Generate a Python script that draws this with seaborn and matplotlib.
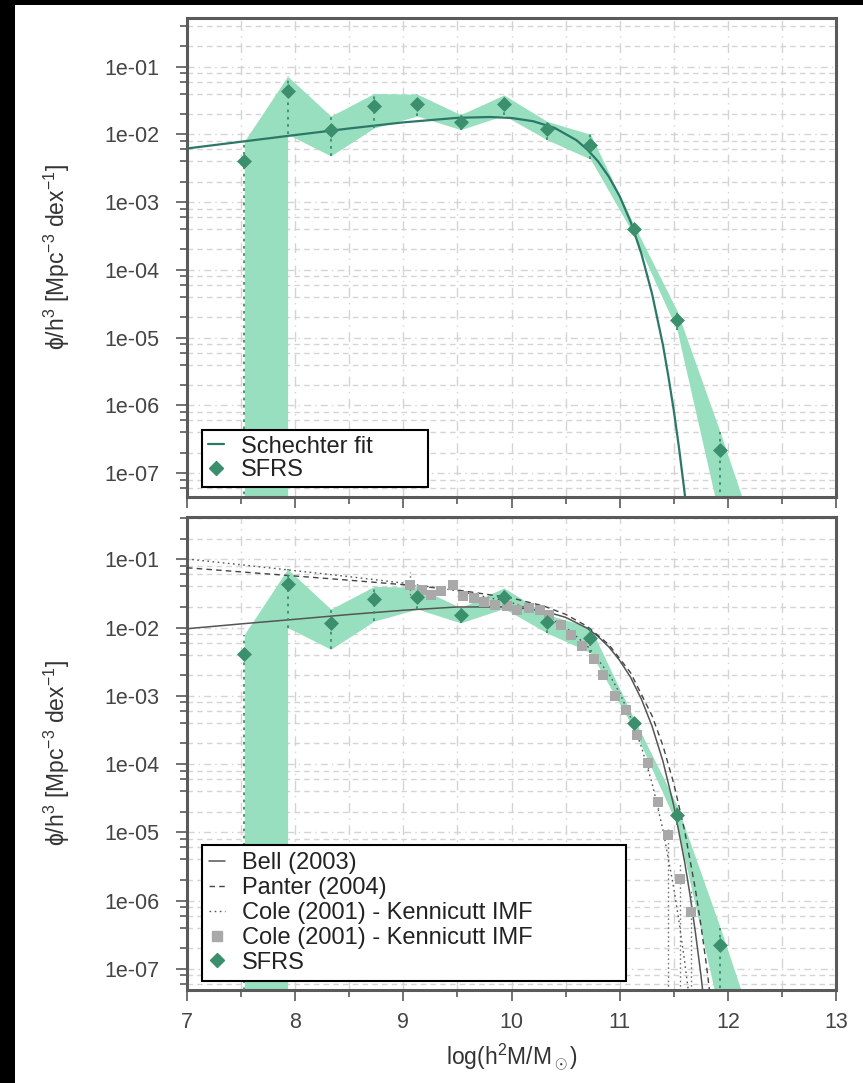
import numpy as np
import pandas as pd
import seaborn as sns
import matplotlib.pyplot as plt
from matplotlib.lines import Line2D
from matplotlib.patches import Rectangle
from matplotlib.ticker import FixedLocator, MultipleLocator, FuncFormatter, NullFormatter

# SFRS mass function points
sfrs_x = [7.53, 7.93, 8.33, 8.73, 9.13, 9.53, 9.93, 10.33, 10.73, 11.13, 11.53, 11.93, 12.33]
sfrs_y = [4.1e-3, 4.3e-2, 1.17e-2, 2.6e-2, 2.8e-2, 1.5e-2, 2.8e-2, 1.2e-2, 7.0e-3, 4.0e-4, 1.8e-5, 2.2e-7, 1.5e-9]
sfrs_hi = [7.9e-3, 7.2e-2, 1.86e-2, 4.0e-2, 3.9e-2, 1.95e-2, 3.8e-2, 1.55e-2, 1.0e-2, 4.7e-4, 2.5e-5, 4.0e-7, 5e-9]
sfrs_lo = [1e-12, 1.0e-2, 4.8e-3, 1.24e-2, 1.86e-2, 1.17e-2, 1.9e-2, 8.3e-3, 4.3e-3, 3.3e-4, 1.3e-5, 2e-8, 1e-10]

# Schechter fit (top panel)
fit_x = [7.0, 7.5, 8.0, 8.5, 9.0, 9.5, 9.8, 10.0, 10.2, 10.4, 10.6, 10.7, 10.8, 10.9, 11.0, 11.1, 11.2,
         11.3, 11.4, 11.45, 11.5, 11.55, 11.6, 11.65]
fit_y = [6.18e-3, 7.77e-3, 9.76e-3, 1.22e-2, 1.50e-2, 1.75e-2, 1.80e-2, 1.74e-2, 1.56e-2, 1.24e-2, 8.2e-3,
         5.97e-3, 3.99e-3, 2.37e-3, 1.22e-3, 5.19e-4, 1.75e-4, 4.4e-5, 7.8e-6, 2.7e-6, 8.5e-7, 2.28e-7,
         5.2e-8, 9.9e-9]

# Bell (2003)
bell_x = [7.0, 7.5, 8.0, 8.5, 9.0, 9.5, 10.0, 10.3, 10.5, 10.7, 10.8, 10.9, 11.0, 11.1, 11.2, 11.3, 11.4,
          11.5, 11.6, 11.65, 11.7, 11.75, 11.8]
bell_y = [9.6e-3, 1.13e-2, 1.32e-2, 1.55e-2, 1.79e-2, 2.0e-2, 2.0e-2, 1.74e-2, 1.41e-2, 9.76e-3, 7.4e-3,
          5.2e-3, 3.3e-3, 1.88e-3, 9.0e-4, 3.57e-4, 1.1e-4, 2.47e-5, 3.74e-6, 1.22e-6, 3.44e-7, 8.4e-8, 1.7e-8]

# Panter (2004)
panter_x = [7.0, 7.5, 8.0, 8.5, 9.0, 9.5, 10.0, 10.3, 10.5, 10.7, 10.9, 11.1, 11.3, 11.4, 11.5, 11.6,
            11.7, 11.75, 11.8, 11.85]
panter_y = [7.5e-2, 6.53e-2, 5.68e-2, 4.93e-2, 4.24e-2, 3.54e-2, 2.71e-2, 2.06e-2, 1.56e-2, 1.04e-2,
            5.61e-3, 2.19e-3, 5.07e-4, 1.86e-4, 5.2e-5, 1.07e-5, 1.46e-6, 4.5e-7, 1.2e-7, 2.7e-8]

# Cole (2001) - Kennicutt IMF, fit
cole_x = [7.0, 7.5, 8.0, 8.5, 9.0, 9.5, 10.0, 10.3, 10.5, 10.7, 10.9, 11.0, 11.1, 11.2, 11.3, 11.4,
          11.5, 11.55, 11.6, 11.65]
cole_y = [1.01e-1, 8.3e-2, 6.8e-2, 5.56e-2, 4.48e-2, 3.46e-2, 2.32e-2, 1.54e-2, 1.01e-2, 5.4e-3, 2.1e-3,
          1.1e-3, 4.9e-4, 1.8e-4, 5.2e-5, 1.09e-5, 1.53e-6, 4.8e-7, 1.3e-7, 3.1e-8]

# Cole (2001) - Kennicutt IMF, data
cole_px = [9.06, 9.17, 9.26, 9.35, 9.46, 9.55, 9.65, 9.75, 9.85, 9.96, 10.05, 10.16, 10.26, 10.35,
           10.46, 10.55, 10.65, 10.76, 10.85, 10.96, 11.06, 11.16, 11.26, 11.35, 11.45, 11.56, 11.66]
cole_py = [4.2e-2, 3.6e-2, 3.0e-2, 3.4e-2, 4.2e-2, 2.85e-2, 2.7e-2, 2.4e-2, 2.15e-2, 2.04e-2, 1.8e-2, 1.9e-2, 1.78e-2, 1.54e-2,
           1.1e-2, 7.8e-3, 5.4e-3, 3.5e-3, 2.0e-3, 1.0e-3, 6.1e-4, 2.7e-4, 1.03e-4, 2.8e-5, 9.2e-6, 2.1e-6, 6.7e-7]
cole_phi = [6.6e-2, 4.2e-2, 3.4e-2, 3.8e-2, 4.6e-2, 3.1e-2, 2.9e-2, 2.6e-2, 2.3e-2, 2.2e-2, 1.9e-2, 2.0e-2, 1.9e-2, 1.65e-2,
            1.2e-2, 8.4e-3, 5.9e-3, 3.8e-3, 2.2e-3, 1.1e-3, 6.8e-4, 3.1e-4, 1.2e-4, 3.4e-5, 1.2e-5, 3.5e-6, 1.4e-6]
cole_plo = [3.0e-2, 3.0e-2, 2.6e-2, 3.0e-2, 3.8e-2, 2.6e-2, 2.5e-2, 2.2e-2, 2.0e-2, 1.9e-2, 1.7e-2, 1.8e-2, 1.67e-2, 1.43e-2,
            1.0e-2, 7.2e-3, 4.9e-3, 3.2e-3, 1.8e-3, 9.0e-4, 5.4e-4, 2.3e-4, 8.5e-5, 2.2e-5, 1e-9, 1e-9, 1e-9]

# axis ticks
y_major = [1e-7, 1e-6, 1e-5, 1e-4, 1e-3, 1e-2, 1e-1]
y_minor_subs = [2, 4, 6, 8]
x_major = [7, 8, 9, 10, 11, 12, 13]

band_color = "#97dfbe"
pt_color = "#3b8f6c"
fit_color = "#2d7768"
axis_gray = "#5a5a5a"
grid_gray = "#d4d4d4"

sns.set_theme(style="white")
plt.rcParams["font.family"] = ["Liberation Sans", "DejaVu Sans"]
plt.rcParams["mathtext.fontset"] = "custom"
plt.rcParams["mathtext.rm"] = "Liberation Sans"
plt.rcParams["mathtext.it"] = "Liberation Sans"

fig = plt.figure(figsize=(8.63, 10.83), dpi=100, facecolor="black")
fig.patches.append(Rectangle((15 / 863, 0), 1, 1 - 5 / 1083, transform=fig.transFigure,
                             facecolor="white", edgecolor="none", zorder=-10))

ax1 = fig.add_axes([187 / 863, 1 - 496.7 / 1083, 649 / 863, 478.7 / 1083])
ax2 = fig.add_axes([187 / 863, 1 - 990 / 1083, 649 / 863, 473.3 / 1083])


def draw_sfrs(ax):
    # first bin: lower error reaches zero
    ax.fill_between(sfrs_x[:2], 1e-12, sfrs_hi[:2], color=band_color, lw=0, zorder=1)
    ax.fill_between(sfrs_x[1:], sfrs_lo[1:], sfrs_hi[1:], color=band_color, lw=0, zorder=1)
    ax.vlines(sfrs_x, sfrs_lo, sfrs_hi, colors=pt_color, linestyles=(0, (1.5, 2.5)), lw=1.3, zorder=4)


def draw_sfrs_points(ax):
    sns.scatterplot(x=sfrs_x, y=sfrs_y, ax=ax, marker="D", s=58, color=pt_color,
                    edgecolor=pt_color, linewidth=0, zorder=6, legend=False)


def style_axes(ax, ylim):
    ax.set_yscale("log")
    ax.set_xlim(7, 13)
    ax.set_ylim(*ylim)
    ax.set_facecolor("white")
    ax.xaxis.set_major_locator(FixedLocator(x_major))
    ax.xaxis.set_minor_locator(MultipleLocator(0.5))
    ax.yaxis.set_major_locator(FixedLocator(y_major))
    y_minor = [s * d for d in [1e-8] + y_major for s in y_minor_subs]
    ax.yaxis.set_minor_locator(FixedLocator(y_minor))
    ax.yaxis.set_major_formatter(FuncFormatter(lambda v, p: f"{v:.0e}"))
    ax.yaxis.set_minor_formatter(NullFormatter())
    ax.tick_params(which="both", direction="out", color=axis_gray, labelcolor="#444444", width=1.2)
    ax.tick_params(which="major", length=8, labelsize=15.5)
    ax.tick_params(which="minor", length=5)
    ax.tick_params(axis="y", which="major", pad=12)
    ax.tick_params(axis="both", which="both", left=True, bottom=True, top=False, right=False)
    ax.grid(True, which="major", axis="y", color=grid_gray, lw=1, ls=(0, (5, 3, 1, 3)))
    ax.grid(True, which="minor", axis="y", color=grid_gray, lw=1, ls=(0, (4, 3)))
    ax.grid(True, which="both", axis="x", color=grid_gray, lw=1, ls=(0, (7, 4, 1, 4)))
    ax.set_axisbelow(True)
    for sp in ax.spines.values():
        sp.set_color(axis_gray)
        sp.set_linewidth(2.2)
    ax.set_ylabel("ϕ/h$^\\mathregular{3}$ [Mpc$^\\mathregular{-3}$ dex$^\\mathregular{-1}$]",
                  fontsize=16.5, color="#333333")
    ax.yaxis.set_label_coords(-0.177, 0.5)


# top panel
draw_sfrs(ax1)
sns.lineplot(x=fit_x, y=fit_y, ax=ax1, color=fit_color, lw=1.6, sort=False, estimator=None, zorder=3)
draw_sfrs_points(ax1)
style_axes(ax1, (4.5e-8, 0.52))
ax1.tick_params(axis="x", labelbottom=False)

h_top = [Line2D([], [], color=fit_color, lw=1.6),
         Line2D([], [], color=pt_color, marker="D", ls="none", markersize=7)]
leg1 = ax1.legend(h_top, ["Schechter fit", "SFRS"], loc="lower left",
                  bbox_to_anchor=(14.7 / 649, 10 / 478.7, 226.6 / 649, 55 / 478.7), mode="expand",
                  borderaxespad=0, fontsize=17, frameon=True, fancybox=False, framealpha=1,
                  edgecolor="black", handlelength=0.7, handletextpad=0.7, labelspacing=0.05,
                  borderpad=0.25)
leg1.get_frame().set_linewidth(1.5)
for t in leg1.get_texts():
    t.set_color("#222222")

# bottom panel
draw_sfrs(ax2)
sns.lineplot(x=bell_x, y=bell_y, ax=ax2, color="#555555", lw=1.1, sort=False, estimator=None, zorder=3)
sns.lineplot(x=panter_x, y=panter_y, ax=ax2, color="#444444", lw=1.0, sort=False, estimator=None, zorder=3)
ax2.lines[-1].set_linestyle((0, (4, 3)))
sns.lineplot(x=cole_x, y=cole_y, ax=ax2, color="#555555", lw=1.0, sort=False, estimator=None, zorder=3)
ax2.lines[-1].set_linestyle((0, (1.2, 2.5)))
ax2.vlines(cole_px, cole_plo, cole_phi, colors="#777777", linestyles=(0, (1.2, 2.0)), lw=1.0, zorder=3)
sns.scatterplot(x=cole_px, y=cole_py, ax=ax2, marker="s", s=52, color="#a9a9a9",
                edgecolor="#a9a9a9", linewidth=0, zorder=4, legend=False)
draw_sfrs_points(ax2)
style_axes(ax2, (4.9e-8, 0.42))
ax2.set_xlabel("log(h$^\\mathregular{2}$M/M$_\\odot$)", fontsize=16.5, color="#333333", labelpad=6)
ax2.tick_params(axis="x", pad=8)

h_bot = [Line2D([], [], color="#555555", lw=1.1),
         Line2D([], [], color="#444444", lw=1.0, ls=(0, (4, 3))),
         Line2D([], [], color="#555555", lw=1.0, ls=(0, (1.2, 2.5))),
         Line2D([], [], color="#a9a9a9", marker="s", ls="none", markersize=7),
         Line2D([], [], color=pt_color, marker="D", ls="none", markersize=7)]
leg2 = ax2.legend(h_bot, ["Bell (2003)", "Panter (2004)", "Cole (2001) - Kennicutt IMF",
                          "Cole (2001) - Kennicutt IMF", "SFRS"], loc="lower left",
                  bbox_to_anchor=(14.7 / 649, 9.3 / 473.3, 424.3 / 649, 140 / 473.3), mode="expand",
                  borderaxespad=0, fontsize=17, frameon=True, fancybox=False, framealpha=1,
                  edgecolor="black", handlelength=0.7, handletextpad=0.7, labelspacing=0.12,
                  borderpad=0.3)
leg2.get_frame().set_linewidth(1.5)
for t in leg2.get_texts():
    t.set_color("#222222")

fig.savefig("out.png", dpi=100, facecolor=fig.get_facecolor())
